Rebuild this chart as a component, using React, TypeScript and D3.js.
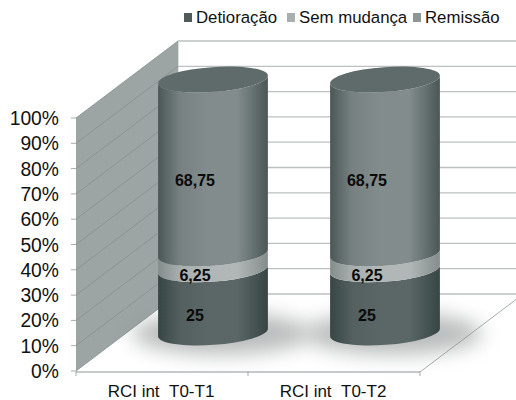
import React from "react";
import * as d3 from "d3";

const categories = ["RCI int\u00a0\u00a0T0-T1", "RCI int\u00a0\u00a0T0-T2"];
const seriesNames = ["Detioração", "Sem mudança", "Remissão"];
const detioracao = [25, 25];
const semMudanca = [6.25, 6.25];
const remissao = [68.75, 68.75];
const valueLabels = [["25", "25"], ["6,25", "6,25"], ["68,75", "68,75"]];
const ticks = [0, 10, 20, 30, 40, 50, 60, 70, 80, 90, 100];
const legendSwatches = ["#4f5b5b", "#a9afaf", "#8e9595"];

const W = 516, H = 400;
const left = 76, right = 420, depthX = 102, depthY = 77;
const yFront = d3.scaleLinear().domain([0, 100]).range([371, 118]);
const x = d3.scaleBand<string>().domain(categories).range([left, right]);
const cylW = x.bandwidth() * 0.64;
const rx = cylW / 2, ry = 12.4, tilt = -4.2;
const sinT = Math.sin((tilt * Math.PI) / 180), cosT = Math.cos((tilt * Math.PI) / 180);

const rows = categories.map((c, i) => ({ c, a: detioracao[i], b: semMudanca[i], d: remissao[i] }));
const stacked = d3.stack<any>().keys(["a", "b", "d"])(rows);

const segPath = (cx: number, y0: number, y1: number) => {
  const lx = cx - rx * cosT, rxp = cx + rx * cosT;
  const dy = -rx * sinT;
  const arc = `A${rx} ${ry} ${tilt}`;
  return `M${lx} ${y0 + dy} ${arc} 0 0 ${rxp} ${y0 - dy} L${rxp} ${y1 - dy} ${arc} 0 1 ${lx} ${y1 + dy} Z`;
};

const grads = [
  { id: "g0", edge: "#374544", mid: "#5a6766" },
  { id: "g1", edge: "#858d8c", mid: "#b1b7b7" },
  { id: "g2", edge: "#4b5757", mid: "#828c8c" },
];

const labelDy = [20, 20, 20];

export default function App() {
  const sans = "'Liberation Sans', Arial, sans-serif";
  const legendX = [184, 287, 413];
  return (
    <svg width={W} height={H} viewBox={`0 0 ${W} ${H}`} style={{ position: "absolute", left: 0, top: 0, background: "#fff" }} fontFamily={sans}>
      <defs>
        {grads.map(g => (
          <linearGradient key={g.id} id={g.id} x1="0" x2="1" y1="0" y2="0">
            <stop offset="0" stopColor={g.edge} />
            <stop offset="0.2" stopColor={d3.interpolateRgb(g.edge, g.mid)(0.8)} />
            <stop offset="0.45" stopColor={g.mid} />
            <stop offset="0.72" stopColor={g.mid} />
            <stop offset="1" stopColor={g.edge} />
          </linearGradient>
        ))}
        <filter id="blur" x="-40%" y="-80%" width="180%" height="260%">
          <feGaussianBlur stdDeviation="10" />
        </filter>
      </defs>

      {ticks.map(t => (
        <line key={t} x1={left + depthX} x2={W} y1={yFront(t) - depthY} y2={yFront(t) - depthY} stroke="#bcc0c0" strokeWidth={1.3} />
      ))}
      <line x1={left + depthX} x2={left + depthX} y1={yFront(100) - depthY} y2={yFront(0) - depthY} stroke="#bcc0c0" />

      <polygon
        points={[[left, yFront(100)], [left + depthX, yFront(100) - depthY], [left + depthX, yFront(0) - depthY], [left, yFront(0)]].join(" ")}
        fill="#9ca4a4"
      />
      {ticks.map(t => (
        <line key={t} x1={left} x2={left + depthX} y1={yFront(t)} y2={yFront(t) - depthY} stroke="#868f8f" strokeWidth={0.8} />
      ))}

      <line x1={right} y1={yFront(0) + 1} x2={right + depthX} y2={yFront(0) + 1 - depthY} stroke="#a8adad" />
      <line x1={left} x2={right} y1={yFront(0) + 1} y2={yFront(0) + 1} stroke="#b4b8b8" strokeWidth={1.6} />
      {ticks.map(t => (
        <line key={t} x1={left - 5} x2={left} y1={yFront(t)} y2={yFront(t)} stroke="#a8adad" />
      ))}
      {[left, left + x.step(), right].map(px => (
        <line key={px} x1={px} x2={px} y1={yFront(0)} y2={yFront(0) + 5} stroke="#a8adad" />
      ))}

      {ticks.map(t => (
        <text key={t} x={59} y={yFront(t) + 7} textAnchor="end" fontSize={19.3} fill="#111">{t}%</text>
      ))}

      {categories.map((c, i) => {
        const cx = x(c)! + x.bandwidth() / 2 + depthX / 2;
        const yC = (v: number) => yFront(v) - depthY / 2;
        return (
          <g key={c}>
            <ellipse cx={cx + 8} cy={yC(0) + 1} rx={rx + 34} ry={21} fill="#8a8f8f" opacity={0.6} filter="url(#blur)" />
            {stacked.map((s, k) => (
              <path key={k} d={segPath(cx, yC(s[i][0]), yC(s[i][1]))} fill={`url(#g${k})`} />
            ))}
            <ellipse cx={cx} cy={yC(100)} rx={rx} ry={ry} transform={`rotate(${tilt} ${cx} ${yC(100)})`} fill="#5f6a6a" />
            {stacked.map((s, k) => (
              <text key={k} x={cx - 18} y={yC((s[i][0] + s[i][1]) / 2) + labelDy[k]} textAnchor="middle" fontSize={16} fontWeight="bold" fill="#0a0a0a">
                {valueLabels[k][i]}
              </text>
            ))}
          </g>
        );
      })}

      {categories.map(c => (
        <text key={c} x={x(c)! + x.bandwidth() / 2 - 1} y={397} textAnchor="middle" fontSize={17} fill="#111">{c}</text>
      ))}

      {seriesNames.map((n, i) => (
        <g key={n}>
          <rect x={legendX[i]} y={13} width={8} height={9} fill={legendSwatches[i]} />
          <text x={legendX[i] + 12} y={23} fontSize={16.8} fill="#111">{n}</text>
        </g>
      ))}
    </svg>
  );
}
